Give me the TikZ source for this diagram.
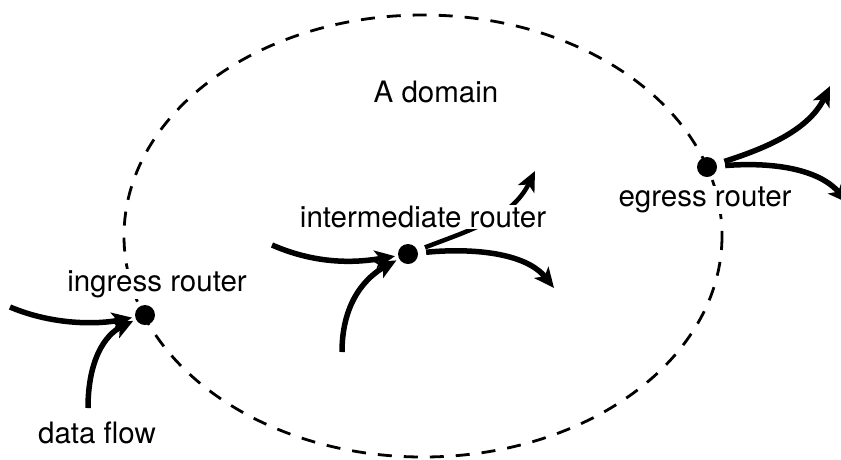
\documentclass[tikz,border=0pt]{standalone}
\usepackage{fontspec}
\setmainfont{TeX Gyre Heros}
\usetikzlibrary{arrows.meta}
\tikzset{
  router/.style={circle,fill=black,inner sep=0pt,minimum size=20pt},
  lbl/.style={font=\fontsize{29.5}{31}\selectfont,inner sep=1pt},
  lblw/.style={lbl,fill=white},
  flow/.style={line width=5.5pt,-{Stealth[length=20pt,width=18pt,inset=5pt]},shorten >=3pt},
  outflow/.style={flow,shorten >=0pt,shorten <=8pt},
  boundary/.style={line width=2.8pt,dash pattern=on 14pt off 12pt},
}
\begin{document}
\begin{tikzpicture}[x=1pt,y=-1pt]
\useasboundingbox (0,0) rectangle (841,459);
% domain boundary
\draw[boundary] (423,236) ellipse [x radius=299, y radius=221];
% routers
\node[router] (ing) at (145,315) {};
\node[router] (mid) at (408,254) {};
\node[router] (egr) at (707,167) {};
% free ends
\coordinate (s1) at (10,307);
\coordinate (s2) at (88,408);
\coordinate (s3) at (272,245);
\coordinate (s4) at (342,352);
\coordinate (t1) at (554,288);
\coordinate (t2) at (535,171);
\coordinate (t3) at (830,86);
\coordinate (t4) at (848,203);
% flows
\draw[flow] (s1) .. controls (55,326) and (100,324) .. (ing);
\draw[flow] (s2) .. controls (88,360) and (105,335) .. (ing);
\draw[flow] (s3) .. controls (320,266) and (360,262) .. (mid);
\draw[flow] (s4) .. controls (342,300) and (368,276) .. (mid);
\draw[outflow] (mid) .. controls (470,248) and (525,252) .. (t1);
\draw[outflow,line width=4.5pt] (mid) .. controls (470,230) and (512,218) .. (t2);
\draw[outflow] (egr) .. controls (760,150) and (808,132) .. (t3);
\draw[outflow] (egr) .. controls (770,162) and (818,168) .. (t4);
% labels
\node[lbl] (dom) at (436,92) {A domain};
\node[lblw] (lmid) at (423,217) {intermediate router};
\node[lblw] (ling) at (157,284) {ingress router};
\node[lblw] (legr) at (705,200) {egress router};
\node[lbl] (ldata) at (97,433) {data flow};
\end{tikzpicture}
\end{document}
